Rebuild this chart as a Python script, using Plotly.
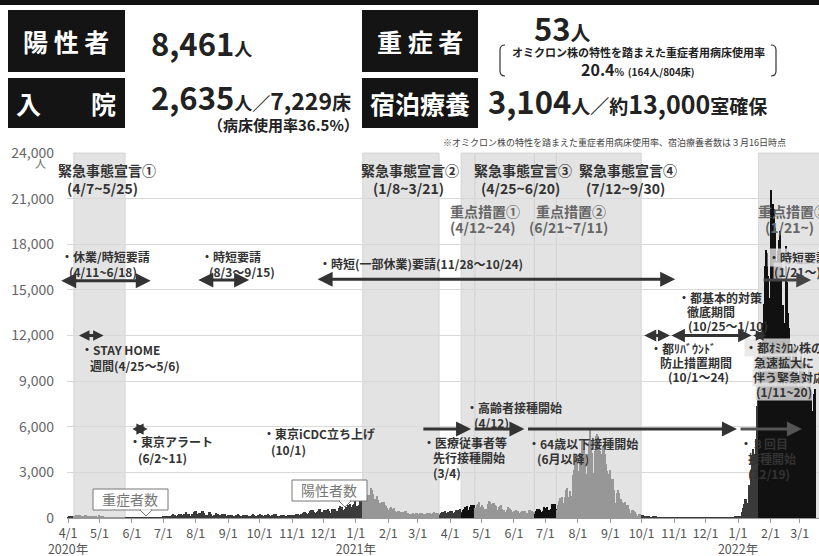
import plotly.graph_objects as go
import pandas as pd

# ---------------- data ----------------
START_DATE = "2020-04-01"

pos_2020_04 = [66, 97, 89, 116, 143, 83, 79, 144, 178, 189, 197, 166, 91, 161, 127, 149, 201, 181, 107, 102,
               123, 132, 134, 161, 103, 72, 39, 112, 47, 46]
pos_2020_05 = [165, 154, 91, 87, 58, 38, 23, 39, 36, 22, 15, 28, 10, 30, 9, 14, 5, 10, 5, 5,
               11, 3, 2, 14, 8, 10, 11, 15, 22, 14, 5]
pos_2020_06 = [13, 34, 12, 28, 20, 26, 14, 13, 12, 18, 22, 25, 24, 47, 48, 27, 16, 41, 35, 39,
               35, 29, 31, 55, 48, 54, 57, 60, 58, 54]
pos_2020_07 = [67, 107, 124, 131, 111, 102, 106, 75, 224, 243, 206, 206, 119, 143, 165, 286, 293, 290, 188, 168,
               237, 238, 366, 260, 295, 239, 131, 266, 250, 367, 463]
pos_2020_08 = [472, 292, 258, 309, 263, 360, 462, 429, 331, 197, 188, 222, 206, 389, 385, 260, 161, 207, 186, 339,
               258, 256, 212, 95, 182, 236, 250, 226, 247, 148, 100]
pos_2020_09 = [170, 141, 211, 226, 181, 148, 77, 170, 149, 276, 187, 146, 146, 80, 191, 163, 171, 220, 218, 162,
               98, 88, 59, 195, 270, 218, 150, 78, 194, 196]
pos_2020_10 = [235, 190, 207, 143, 78, 177, 173, 186, 246, 211, 146, 79, 166, 176, 284, 185, 235, 124, 78, 139,
               186, 185, 186, 215, 124, 102, 158, 171, 221, 203, 215]
pos_2020_11 = [87, 209, 189, 122, 269, 242, 294, 189, 157, 293, 317, 393, 374, 352, 255, 180, 298, 493, 534, 522,
               539, 391, 314, 186, 401, 481, 570, 561, 418, 311]
pos_2020_12 = [372, 500, 533, 449, 584, 480, 299, 352, 572, 602, 595, 621, 480, 305, 460, 678, 822, 664, 736, 556,
               392, 563, 748, 888, 884, 949, 708, 481, 856, 944, 1337]
pos_2021_01 = [783, 814, 816, 884, 1278, 1591, 2447, 2392, 2268, 1494, 1219, 970, 1502, 1502, 2001, 1809, 1592, 1204, 1240, 1274,
               1471, 1175, 986, 986, 618, 1026, 973, 1064, 868, 769, 633]
pos_2021_02 = [393, 556, 676, 734, 577, 639, 429, 276, 412, 491, 434, 307, 369, 371, 266, 378, 445, 445, 353, 327,
               272, 178, 275, 213, 340, 270, 337, 329]
pos_2021_03 = [232, 121, 316, 279, 301, 293, 237, 116, 290, 340, 335, 304, 330, 239, 175, 300, 409, 323, 303, 342,
               256, 187, 337, 420, 394, 376, 430, 313, 234, 364, 414]
pos_2021_04 = [475, 440, 446, 355, 249, 399, 555, 545, 537, 570, 421, 306, 510, 591, 729, 667, 759, 543, 405, 711,
               843, 861, 759, 876, 635, 425, 828, 925, 1027, 698]
pos_2021_05 = [879, 708, 606, 609, 591, 621, 907, 1121, 1032, 573, 925, 969, 1010, 854, 772, 542, 419, 732, 766, 843,
               618, 535, 393, 340, 533, 743, 684, 614, 539, 393, 260]
pos_2021_06 = [471, 487, 508, 472, 436, 351, 235, 370, 440, 439, 436, 467, 304, 209, 501, 501, 452, 453, 388, 376,
               236, 435, 619, 570, 562, 534, 386, 317, 476, 714]
pos_2021_07 = [673, 660, 716, 518, 342, 593, 920, 896, 822, 950, 614, 502, 830, 1149, 1308, 1271, 1410, 1008, 727, 1387,
               1832, 1979, 1359, 1128, 1763, 1429, 2848, 3177, 3865, 3300, 4058]
pos_2021_08 = [3058, 2195, 3709, 4166, 5042, 4515, 4566, 4066, 2884, 2612, 4200, 4989, 5773, 5094, 4295, 2962, 4377, 5386, 5534, 5405,
               5074, 4392, 2447, 4228, 4704, 4704, 4227, 3581, 3081, 1915, 2909]
pos_2021_09 = [3168, 2539, 2362, 2539, 1853, 968, 1629, 1834, 1675, 1242, 1273, 1067, 611, 1004, 1052, 831, 782, 862, 599, 302,
               253, 537, 531, 435, 383, 235, 154, 267, 267, 218]
pos_2021_10 = [200, 198, 161, 87, 149, 143, 138, 82, 66, 60, 49, 77, 77, 62, 72, 66, 40, 29, 36, 41,
               36, 26, 32, 19, 17, 36, 18, 21, 23, 22, 9]
pos_2021_11 = [9, 29, 18, 17, 25, 20, 20, 9, 24, 26, 28, 25, 21, 24, 11, 22, 14, 23, 20, 13,
               14, 9, 5, 21, 20, 14, 21, 11, 7, 19]
pos_2021_12 = [12, 15, 17, 19, 15, 7, 12, 19, 18, 21, 16, 20, 14, 18, 18, 24, 30, 15, 23, 12,
               36, 38, 35, 37, 37, 37, 16, 46, 76, 64, 78]
pos_2022_01 = [79, 84, 103, 151, 390, 641, 922, 1224, 1223, 871, 962, 2198, 3124, 4051, 4561, 4172, 3919, 5185, 7377, 8638,
               9699, 11227, 9468, 8503, 12813, 14086, 16538, 17631, 17433, 15895, 11751]
pos_2022_02 = [14445, 21576, 20679, 20343, 19080, 16893, 11441, 17526, 18287, 18891, 17434, 12224, 14037, 9862, 12847, 17864, 15525, 13506, 12512, 11133,
               7642, 10180, 11251, 11255, 11011, 10215, 8599, 7131]
pos_2022_03 = [10367, 11202, 10211, 9920, 9016, 8225, 4808, 8853, 9211, 10169, 9232, 8002, 7022, 3900, 8159, 8461]

emergency_periods = [("2020-04-07", "2020-05-25"), ("2021-01-08", "2021-03-21"),
                     ("2021-04-25", "2021-06-20"), ("2021-07-12", "2021-09-30")]
priority_periods = [("2021-04-12", "2021-04-24"), ("2021-06-21", "2021-07-11"), ("2022-01-21", "2022-03-31")]

tick_dates = ["2020-04-01", "2020-05-01", "2020-06-01", "2020-07-01", "2020-08-01", "2020-09-01",
              "2020-10-01", "2020-11-01", "2020-12-01", "2021-01-01", "2021-02-01", "2021-03-01",
              "2021-04-01", "2021-05-01", "2021-06-01", "2021-07-01", "2021-08-01", "2021-09-01",
              "2021-10-01", "2021-11-01", "2021-12-01", "2022-01-01", "2022-02-01", "2022-03-01"]
tick_labels = ["4/1<br>2020年", "5/1", "6/1", "7/1", "8/1", "9/1", "10/1", "11/1", "12/1",
               "1/1<br>2021年", "2/1", "3/1", "4/1", "5/1", "6/1", "7/1", "8/1", "9/1", "10/1", "11/1", "12/1",
               "1/1<br>2022年", "2/1", "3/1"]
y_ticks = [0, 3000, 6000, 9000, 12000, 15000, 18000, 21000, 24000]

monthly = [pos_2020_04, pos_2020_05, pos_2020_06, pos_2020_07, pos_2020_08, pos_2020_09, pos_2020_10,
           pos_2020_11, pos_2020_12, pos_2021_01, pos_2021_02, pos_2021_03, pos_2021_04, pos_2021_05,
           pos_2021_06, pos_2021_07, pos_2021_08, pos_2021_09, pos_2021_10, pos_2021_11, pos_2021_12,
           pos_2022_01, pos_2022_02, pos_2022_03]
values = [v for m in monthly for v in m]
dates = pd.date_range(START_DATE, periods=len(values), freq="D")

# ---------------- styling ----------------
FONT = "Noto Sans CJK JP"
C_EMERG = "#979797"
C_PRIO = "#111111"
C_OTHER = "#3a3a3a"
SHADE = "#e3e3e3"


def in_periods(d, periods):
    return any(pd.Timestamp(a) <= d <= pd.Timestamp(b) for a, b in periods)


colors = []
for d in dates:
    if in_periods(d, emergency_periods):
        colors.append(C_EMERG)
    elif in_periods(d, priority_periods):
        colors.append(C_PRIO)
    else:
        colors.append(C_OTHER)

fig = go.Figure()
fig.add_trace(go.Bar(x=dates, y=values, marker=dict(color=colors, line=dict(width=0)),
                     width=86400000, hoverinfo="skip"))

# pixel -> paper helpers (plot area 67..819 x 153..518)
PL, PR, PT, PB = 67, 819, 153, 518


def X(px):
    return (px - PL) / (PR - PL)


def Y(py):
    return (PB - py) / (PB - PT)


shapes = []
half = pd.Timedelta(hours=12)
for a, b in emergency_periods + priority_periods:
    shapes.append(dict(type="rect", xref="x", yref="paper", x0=pd.Timestamp(a) - half,
                       x1=pd.Timestamp(b) + half, y0=0, y1=1, fillcolor=SHADE,
                       line=dict(color="#cfcfcf", width=0.8), layer="below"))

# header
shapes.append(dict(type="rect", xref="paper", yref="paper", x0=X(0), x1=X(819), y0=Y(5), y1=Y(0),
                   fillcolor="#111", line=dict(width=0)))
for (x0, x1, y0, y1) in [(8, 125, 10, 72), (8, 125, 78, 128), (362, 478, 10, 72), (362, 478, 78, 128)]:
    shapes.append(dict(type="rect", xref="paper", yref="paper", x0=X(x0), x1=X(x1), y0=Y(y1), y1=Y(y0),
                       fillcolor="#141414", line=dict(width=0)))


def bracket(xe, xi, ytop, ybot):
    return (f"M {X(xi)},{Y(ytop)} Q {X(xe)},{Y(ytop)} {X(xe)},{Y(ytop + 5)} "
            f"L {X(xe)},{Y(ybot - 5)} Q {X(xe)},{Y(ybot)} {X(xi)},{Y(ybot)}")


shapes.append(dict(type="path", xref="paper", yref="paper", path=bracket(500, 505, 45, 76),
                   line=dict(color="#333", width=1.2)))
shapes.append(dict(type="path", xref="paper", yref="paper", path=bracket(776, 771, 45, 76),
                   line=dict(color="#333", width=1.2)))

# callout boxes
for (x0, x1, y0, y1, px) in [(93, 168, 489, 510, 146), (292, 367, 480, 501, 345)]:
    shapes.append(dict(type="rect", xref="paper", yref="paper", x0=X(x0), x1=X(x1), y0=Y(y1), y1=Y(y0),
                       fillcolor="white", line=dict(color="#777", width=1), layer="above"))
    shapes.append(dict(type="path", xref="paper", yref="paper",
                       path=f"M {X(px - 6)},{Y(y1)} L {X(px)},{Y(y1 + 6)} L {X(px + 6)},{Y(y1)} Z",
                       fillcolor="white", line=dict(color="#777", width=1), layer="above"))
    shapes.append(dict(type="line", xref="paper", yref="paper", x0=X(px - 5), x1=X(px + 5),
                       y0=Y(y1), y1=Y(y1), line=dict(color="white", width=1.5), layer="above"))

ann = []


def txt(x, y, s, size=12, color="#333", bold=True, anchor="left", bg=None):
    d = dict(xref="paper", yref="paper", x=X(x), y=Y(y), text=(f"<b>{s}</b>" if bold else s),
             showarrow=False, xanchor=anchor, yanchor="middle", align="left",
             font=dict(family=FONT, size=size, color=color), borderpad=0)
    if bg:
        d["bgcolor"] = bg
    return d


def sp(s, size):
    return f"<span style='font-size:{size}px'>{s}</span>"


# header texts
ann.append(txt(66, 41, "陽 性 者", 25, "white", True, "center"))
ann.append(txt(66, 103, "入　　院", 25, "white", True, "center"))
ann.append(txt(420, 41, "重 症 者", 25, "white", True, "center"))
ann.append(txt(420, 103, "宿泊療養", 25, "white", True, "center"))
ann.append(txt(150, 43, "8,461" + sp("人", 18), 31, "#222", True))
ann.append(txt(150, 97, "2,635" + sp("人／", 18) + sp("7,229", 23) + sp("床", 19), 31, "#222", True))
ann.append(txt(207, 124, "（病床使用率36.5%）", 15, "#222", True))
ann.append(txt(533, 28, "53" + sp("人", 20), 31, "#222", True))
ann.append(txt(638, 52, "オミクロン株の特性を踏まえた重症者用病床使用率", 11, "#222", True, "center"))
ann.append(txt(638, 69, "20.4" + sp("%", 10) + " " + sp("(164人/804床)", 10), 16, "#222", True, "center"))
ann.append(txt(487, 100, "3,104" + sp("人／約", 19) + sp("13,000", 25) + sp("室確保", 19), 31, "#222", True))
ann.append(txt(614, 143, "※オミクロン株の特性を踏まえた重症者用病床使用率、宿泊療養者数は３月16日時点", 9, "#444", False, "center"))
ann.append(txt(40, 163, "人", 11, "#666", False, "center"))

# period headings
for x, y, s in [(57, 170, "緊急事態宣言①"), (66, 188, "(4/7~5/25)"),
                (360, 170, "緊急事態宣言②"), (372, 188, "(1/8~3/21)"),
                (473, 170, "緊急事態宣言③"), (480, 188, "(4/25~6/20)"),
                (578, 170, "緊急事態宣言④"), (585, 188, "(7/12~9/30)")]:
    ann.append(txt(x, y, s, 14, "#333"))
for x, y, s in [(449, 211, "重点措置①"), (449, 227, "(4/12~24)"),
                (535, 211, "重点措置②"), (528, 227, "(6/21~7/11)"),
                (757, 211, "重点措置③"), (764, 227, "(1/21~)")]:
    ann.append(txt(x, y, s, 14, "#666"))

# measure texts
for x, y, s in [(60, 256, "・休業/時短要請"), (68, 271, "(4/11~6/18)"),
                (200, 256, "・時短要請"), (208, 271, "(8/3〜9/15)"),
                (318, 263, "・時短(一部休業)要請(11/28〜10/24)"),
                (80, 349, "・STAY HOME"), (89, 365, "週間(4/25〜5/6)"),
                (128, 441, "・東京アラート"), (137, 457, "(6/2~11)"),
                (262, 433, "・東京iCDC立ち上げ"), (270, 449, "(10/1)"),
                (465, 407, "・高齢者接種開始"), (473, 422, "(4/12)"),
                (422, 442, "・医療従事者等"), (432, 457, "先行接種開始"), (432, 472, "(3/4)"),
                (527, 443, "・64歳以下接種開始"), (536, 458, "(6月以降)"),
                (677, 297, "・都基本的対策"), (686, 311, "徹底期間"), (687, 325, "(10/25〜1/10)"),
                (649, 348, "・都ﾘﾊﾞｳﾝﾄﾞ"), (659, 362, "防止措置期間"), (667, 376, "(10/1〜24)"),
                (739, 443, "・３回目"), (747, 458, "接種開始"), (747, 473, "(12/19)")]:
    ann.append(txt(x, y, s, 12, "#333"))
for x, y, s in [(744, 347, "・都ｵﾐｸﾛﾝ株の"), (753, 362, "急速拡大に"), (752, 377, "伴う緊急対応"),
                (755, 391, "(1/11~20)"), (767, 257, "・時短要請"), (773, 271, "(1/21〜)")]:
    ann.append(txt(x, y, s, 12, "#333", True, "left", "rgba(228,228,228,0.8)"))

# callout labels
ann.append(txt(130, 499, "重症者数", 14, "#777", False, "center"))
ann.append(txt(329, 490, "陽性者数", 14, "#777", False, "center"))

# arrows (date spans of each measure, y-level in chart units)
arrows = [("2020-03-24", "2020-06-19", 15600, "end+start", "#333", 1),
          ("2020-04-10", "2020-05-05", 12000, "end+start", "#333", 0.7),
          ("2020-05-31", "2020-06-16", 5850, "end+start", "#333", 0.75),
          ("2020-08-02", "2020-09-21", 15650, "end+start", "#333", 1),
          ("2020-11-24", "2021-11-02", 15700, "end+start", "#333", 1),
          ("2021-03-05", "2021-04-21", 5850, "end", "#333", 1),
          ("2021-04-23", "2021-06-11", 5850, "end", "#333", 1),
          ("2021-06-13", "2021-12-31", 5850, "end", "#333", 1),
          ("2022-01-02", "2022-03-03", 5850, "end", "#555", 1),
          ("2021-10-02", "2021-10-28", 12000, "end+start", "#333", 0.8),
          ("2021-10-28", "2022-01-14", 12000, "end+start", "#333", 0.9),
          ("2022-01-14", "2022-01-28", 12000, "end+start", "#333", 0.7),
          ("2022-01-24", "2022-03-12", 15650, "end", "#444", 1)]
for a, b, yv, side, col, hs in arrows:
    ann.append(dict(x=b, y=yv, ax=a, ay=yv, xref="x", yref="y", axref="x", ayref="y", text="",
                    showarrow=True, arrowhead=2, arrowsize=hs, arrowwidth=3, arrowcolor=col,
                    arrowside=side, standoff=0, startstandoff=0))

fig.update_layout(
    width=819, height=556,
    margin=dict(l=PL, r=0, t=PT, b=556 - PB, autoexpand=False),
    paper_bgcolor="white", plot_bgcolor="white",
    showlegend=False, bargap=0,
    font=dict(family=FONT, size=13, color="#555"),
    shapes=shapes, annotations=ann,
    xaxis=dict(type="date", range=["2020-03-31", "2022-03-19 09:00"], tickmode="array",
               tickvals=tick_dates, ticktext=tick_labels, ticks="outside", ticklen=4, tickcolor="#999",
               tickangle=0, automargin=False,
               showgrid=False, showline=True, linecolor="#999", linewidth=1,
               tickfont=dict(family=FONT, size=12.5, color="#555")),
    yaxis=dict(range=[0, 24000], tickmode="array", tickvals=y_ticks, automargin=False,
               ticktext=[f"{v:,}" for v in y_ticks], showgrid=True, gridcolor="#d9d9d9",
               zeroline=False, ticks="", ticklabelstandoff=12,
               tickfont=dict(family=FONT, size=14, color="#666")),
)

fig.write_html("out.html", config={"displayModeBar": False},
               post_script="document.body.style.margin='0';document.body.style.overflow='hidden';")
